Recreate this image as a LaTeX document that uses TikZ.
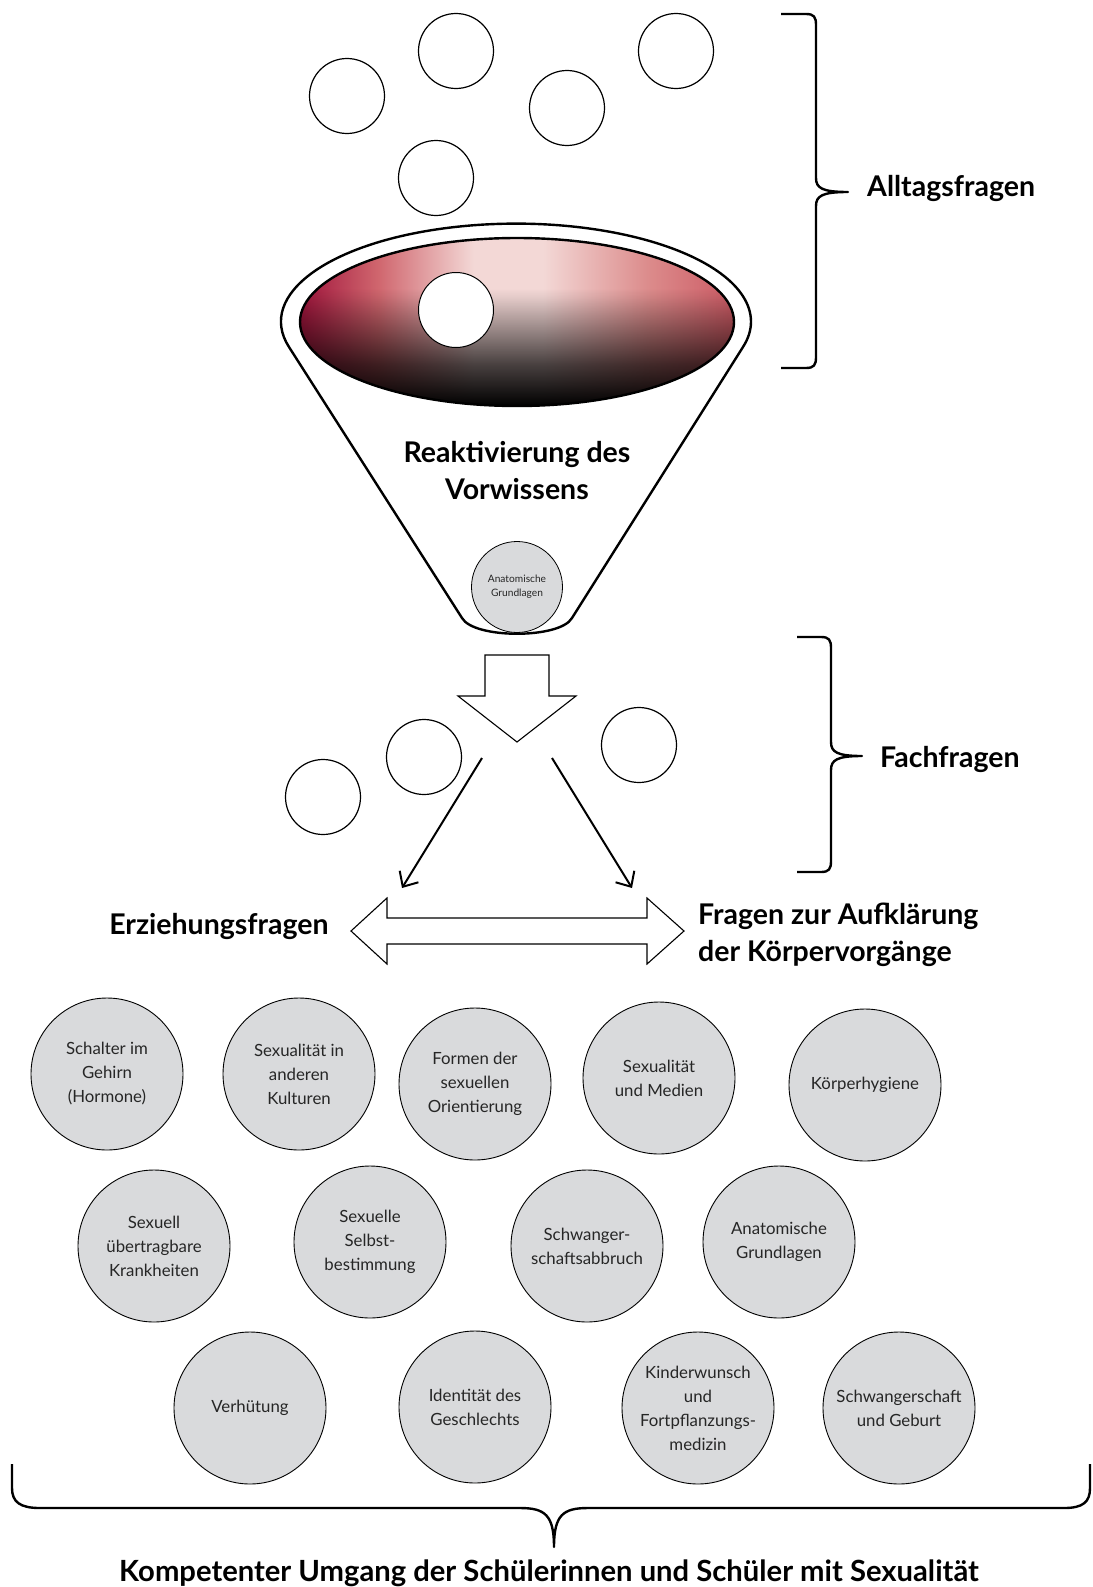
\documentclass[tikz,border=0pt]{standalone}
\usepackage{fontspec}
\setmainfont{Lato}
\usetikzlibrary{arrows.meta,fadings}
\definecolor{topicgray}{HTML}{D9DADC}
\definecolor{fa}{HTML}{A0143C}
\definecolor{fb}{HTML}{D0666E}
\definecolor{fc}{HTML}{F3D8D6}
\definecolor{fd}{HTML}{DC8C8C}
\definecolor{fe}{HTML}{CC5A64}
% the path's bounding box maps to 25bp..75bp of a shading or fading
\pgfdeclarehorizontalshading{funnelh}{100bp}{color(0bp)=(fa); color(25bp)=(fa); color(34bp)=(fb); color(45bp)=(fc); color(53bp)=(fc); color(65bp)=(fd); color(75bp)=(fe); color(100bp)=(fe)}
\pgfdeclareverticalshading{maskv}{100bp}{color(0bp)=(white); color(25bp)=(white); color(37.5bp)=(white!70!black); color(50bp)=(white!30!black); color(57.5bp)=(white!6!black); color(60bp)=(black); color(100bp)=(black)}
\pgfdeclarefading{darkbottom}{\pgfuseshading{maskv}}
\begin{document}
\begin{tikzpicture}[x=1pt,y=-1pt,
  bubble/.style={circle,draw,line width=1.2pt,minimum size=75pt,inner sep=0pt,fill=white},
  topic/.style={circle,draw,line width=0.9pt,fill=topicgray,minimum size=152pt,inner sep=0pt,align=center,text=black!85,font=\fontsize{16.8}{24}\selectfont},
  heading/.style={font=\bfseries\fontsize{28.5}{37}\selectfont,inner sep=0pt},
  fatline/.style={line width=2.4pt,line join=round},
  flow/.style={line width=2pt,-{Straight Barb[length=12pt,width=22pt,line width=2pt]}},
  blockarrow/.style={draw,line width=1.1pt,fill=white,line join=miter}]
\useasboundingbox (0,0) rectangle (1092,1587);

% top bubbles
\node[bubble] (b1) at (347,96) {};
\node[bubble] (b2) at (456,51) {};
\node[bubble] (b3) at (567,108) {};
\node[bubble] (b4) at (676,51) {};
\node[bubble] (b5) at (436,178) {};

% funnel outline
\draw[fatline] (289,347) arc[start angle=165, end angle=375, x radius=235, y radius=98]
  -- (572,618) .. controls (560,639) and (474,639) .. (462,618) -- cycle;
% funnel top ellipse
\shade[shading=funnelh] (517,322) ellipse[x radius=217, y radius=84];
\fill[black, path fading=darkbottom] (517,322) ellipse[x radius=217, y radius=84];
\draw[fatline] (517,322) ellipse[x radius=217, y radius=84];
\node[bubble, line width=1pt] (bin) at (456,310) {};

\node[heading, align=center] (reakt) at (517,471) {Reaktivierung des\\Vorwissens};
\node[circle,draw,line width=0.8pt,fill=topicgray,minimum size=91pt,inner sep=0pt,align=center,text=black!85,font=\fontsize{10.2}{14}\selectfont] (anat0) at (517,587) {Anatomische\\Grundlagen};

% block arrow down
\draw[blockarrow] (485,655) -- (549,655) -- (549,696) -- (576,696) -- (517,742) -- (458,696) -- (485,696) -- cycle;

% middle bubbles
\node[bubble] (m1) at (424,757) {};
\node[bubble] (m2) at (639,745) {};
\node[bubble] (m3) at (323,797) {};

% thin arrows
\coordinate (l1) at (482,758);
\coordinate (l2) at (402,888);
\coordinate (r1) at (552,758);
\coordinate (r2) at (632,888);
\draw[flow] (l1) -- (l2);
\draw[flow] (r1) -- (r2);

% double block arrow
\draw[blockarrow] (351,931) -- (387,898) -- (387,918) -- (647,918) -- (647,898) -- (684,931)
  -- (647,964) -- (647,944) -- (387,944) -- (387,964) -- cycle;

\node[heading] (erz) at (219,926) {Erziehungsfragen};
\node[heading, align=left, anchor=west] (aufkl) at (698,935) {Fragen zur Aufklärung\\der Körpervorgänge};

% braces
\draw[fatline] (781,14) -- (806,14) .. controls (814,14) and (816,17) .. (816,25) -- (816,178)
  .. controls (816,188) and (822,192) .. (848,192) .. controls (822,192) and (816,196) .. (816,206)
  -- (816,357) .. controls (816,365) and (814,368) .. (806,368) -- (781,368);
\node[heading, anchor=west] (alltag) at (867,188) {Alltagsfragen};

\draw[fatline] (797,637) -- (821,637) .. controls (829,637) and (831,640) .. (831,648) -- (831,742)
  .. controls (831,752) and (837,756) .. (862,756) .. controls (837,756) and (831,760) .. (831,770)
  -- (831,861) .. controls (831,869) and (829,872) .. (821,872) -- (797,872);
\node[heading, anchor=west] (fach) at (880,759) {Fachfragen};

% topic circles
\node[topic] (t1) at (107,1074) {Schalter im\\Gehirn\\(Hormone)};
\node[topic] (t2) at (299,1074) {Sexualität in\\anderen\\Kulturen};
\node[topic] (t3) at (475,1084) {Formen der\\sexuellen\\Orientierung};
\node[topic] (t4) at (659,1078) {Sexualität\\und Medien};
\node[topic] (t5) at (865,1085) {Körperhygiene};
\node[topic] (t6) at (154,1246) {Sexuell\\übertragbare\\Krankheiten};
\node[topic] (t7) at (370,1242) {Sexuelle\\Selbst-\\bestimmung};
\node[topic] (t8) at (587,1246) {Schwanger-\\schaftsabbruch};
\node[topic] (t9) at (779,1242) {Anatomische\\Grundlagen};
\node[topic] (t10) at (250,1408) {Verhütung};
\node[topic] (t11) at (475,1407) {Identität des\\Geschlechts};
\node[topic] (t12) at (698,1408) {Kinderwunsch\\und\\Fortpflanzungs-\\medizin};
\node[topic] (t13) at (899,1408) {Schwangerschaft\\und Geburt};

% bottom brace
\draw[fatline] (12,1464) -- (12,1488) .. controls (12,1502) and (20,1508) .. (40,1508) -- (520,1508)
  .. controls (545,1508) and (554,1515) .. (554,1547) .. controls (554,1515) and (563,1508) .. (588,1508)
  -- (1064,1508) .. controls (1083,1508) and (1090,1502) .. (1090,1488) -- (1090,1464);

\node[heading, font=\bfseries\fontsize{29.2}{37}\selectfont, anchor=base] (komp) at (549,1581) {Kompetenter Umgang der Schülerinnen und Schüler mit Sexualität};
\end{tikzpicture}
\end{document}
